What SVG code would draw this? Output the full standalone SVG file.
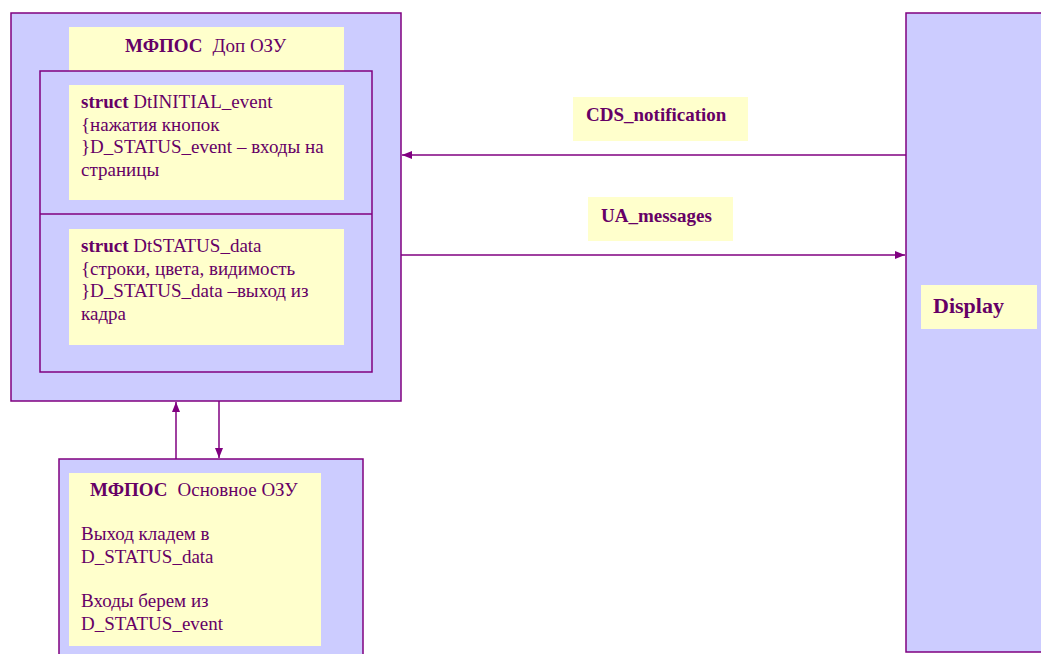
<svg xmlns="http://www.w3.org/2000/svg" width="1041" height="654" viewBox="0 0 1041 654">
  <style>
    .box { fill: #CCCCFF; stroke: #800080; stroke-width: 1.5; }
    .frame { fill: none; stroke: #800080; stroke-width: 1.5; }
    .note { fill: #FFFFCC; stroke: none; }
    .conn { fill: none; stroke: #800080; stroke-width: 1.5; }
    text { font-family: "Liberation Serif", "Times New Roman", serif; font-size: 19px; fill: #660066; }
    .b { font-weight: bold; }
  </style>
  <defs>
    <marker id="arrow" viewBox="0 0 10 10" refX="10" refY="5" markerWidth="10" markerHeight="10" markerUnits="userSpaceOnUse" orient="auto">
      <path d="M0,1 L10,5 L0,9 Z" fill="#800080"/>
    </marker>
  </defs>

  <rect width="1041" height="654" fill="#FFFFFF"/>

  <!-- Additional RAM block -->
  <g id="dop-ozu">
    <rect class="box" x="11" y="13" width="390" height="388"/>
    <rect class="note" x="69" y="27" width="275" height="44"/>
    <text x="125" y="52"><tspan class="b">МФПОС</tspan><tspan dx="10">Доп ОЗУ</tspan></text>
    <path class="frame" d="M40,71 H372 V372 H40 Z M40,214 H372"/>
  </g>

  <g id="initial-event">
    <rect class="note" x="69" y="85" width="275" height="115"/>
    <text x="81" y="108"><tspan class="b">struct</tspan> DtINITIAL_event</text>
    <text x="81" y="130.5">{нажатия кнопок</text>
    <text x="81" y="153">}D_STATUS_event – входы на</text>
    <text x="81" y="175.5">страницы</text>
  </g>

  <g id="status-data">
    <rect class="note" x="69" y="229" width="275" height="116"/>
    <text x="81" y="252"><tspan class="b">struct</tspan> DtSTATUS_data</text>
    <text x="81" y="274.5">{строки, цвета, видимость</text>
    <text x="81" y="297">}D_STATUS_data –выход из</text>
    <text x="81" y="319.5">кадра</text>
  </g>

  <!-- Main RAM block -->
  <g id="main-ozu">
    <rect class="box" x="59" y="459" width="304" height="210"/>
    <rect class="note" x="69" y="473" width="252" height="173"/>
    <text x="90" y="496"><tspan class="b">МФПОС</tspan><tspan dx="10">Основное ОЗУ</tspan></text>
    <text x="81" y="539.5">Выход кладем в</text>
    <text x="81" y="562.5">D_STATUS_data</text>
    <text x="81" y="606.5">Входы берем из</text>
    <text x="81" y="629.5">D_STATUS_event</text>
  </g>

  <!-- Display block -->
  <g id="display">
    <rect class="box" x="906" y="13" width="150" height="639"/>
    <rect class="note" x="921" y="285" width="116" height="44"/>
    <text class="b" x="933" y="313" style="font-size:22px">Display</text>
  </g>

  <!-- Message labels -->
  <g id="cds-label">
    <rect class="note" x="573" y="97" width="175" height="44"/>
    <text class="b" x="586" y="121">CDS_notification</text>
  </g>
  <g id="ua-label">
    <rect class="note" x="588" y="197" width="145" height="44"/>
    <text class="b" x="601" y="222">UA_messages</text>
  </g>

  <!-- Connectors -->
  <g id="connectors">
    <line class="conn" x1="906" y1="155" x2="402" y2="155" marker-end="url(#arrow)"/>
    <line class="conn" x1="401" y1="255" x2="905" y2="255" marker-end="url(#arrow)"/>
    <line class="conn" x1="176" y1="459" x2="176" y2="402" marker-end="url(#arrow)"/>
    <line class="conn" x1="219" y1="401" x2="219" y2="458" marker-end="url(#arrow)"/>
  </g>
</svg>
